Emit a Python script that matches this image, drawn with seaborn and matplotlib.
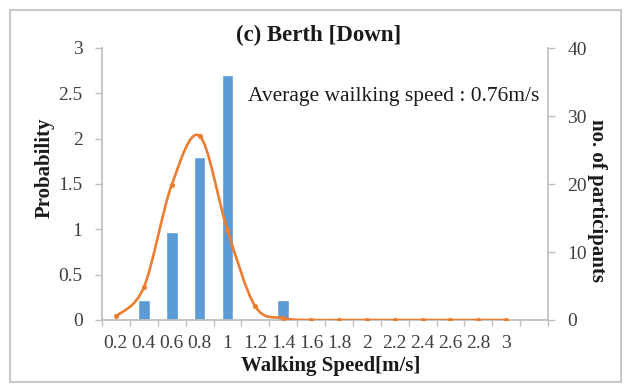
import numpy as np
import pandas as pd
import matplotlib
matplotlib.use("Agg")
import matplotlib.pyplot as plt
from matplotlib.path import Path
from matplotlib.patches import PathPatch, Rectangle
from matplotlib.ticker import FixedLocator
import seaborn as sns

# ---- data ----
categories = ["0.2", "0.4", "0.6", "0.8", "1", "1.2", "1.4", "1.6", "1.8",
              "2", "2.2", "2.4", "2.6", "2.8", "3", ""]
participants = [0, 3, 13, 24, 36, 0, 3, 0, 0, 0, 0, 0, 0, 0, 0, 0]
probability = [0.04, 0.36, 1.49, 2.03, 0.99, 0.15, 0.02, 0.0, 0.0,
               0.0, 0.0, 0.0, 0.0, 0.0, 0.0]
prob_ticks = [0, 0.5, 1, 1.5, 2, 2.5, 3]
prob_labels = ["0", "0.5", "1", "1.5", "2", "2.5", "3"]
count_ticks = [0, 10, 20, 30, 40]

title = "(c) Berth [Down]"
note = "Average wailking speed : 0.76m/s"

BLUE = "#5b9bd5"
ORANGE = "#ed7d31"
AXC = "#bfbfbf"
TXT = "#404040"

sns.set_theme(style="white")
plt.rcParams["font.family"] = ["Liberation Serif", "DejaVu Serif"]

W, H = 624, 384
fig = plt.figure(figsize=(W / 100, H / 100), dpi=100)
fig.patch.set_facecolor("white")

# outer frame
fig.patches.append(Rectangle((10 / W, 2 / H), 611 / W, 372 / H, transform=fig.transFigure,
                             fill=False, edgecolor="#c8c8c8", lw=1.5, zorder=0))

ax = fig.add_axes([102 / W, 1 - 320 / H, 446 / W, 272 / H])
ax2 = ax.twinx()

df_bar = pd.DataFrame({"speed": categories, "count": participants})
sns.barplot(data=df_bar, x="speed", y="count", order=categories, color=BLUE,
            saturation=1, width=0.42, ax=ax2, errorbar=None)

# line on primary axis, drawn above bars
ax.set_zorder(ax2.get_zorder() + 1)
ax.patch.set_visible(False)

xs = np.arange(len(probability), dtype=float)
ys = np.array(probability, dtype=float)
# smoothed (Bezier) line through the points, Excel-style
pts = np.column_stack([xs, ys])
verts = [pts[0]]
codes = [Path.MOVETO]
n = len(pts)
for i in range(n - 1):
    p0 = pts[max(i - 1, 0)]
    p1 = pts[i]
    p2 = pts[i + 1]
    p3 = pts[min(i + 2, n - 1)]
    c1 = p1 + (p2 - p0) / 6.0
    c2 = p2 - (p3 - p1) / 6.0
    verts += [c1, c2, p2]
    codes += [Path.CURVE4] * 3
ax.add_patch(PathPatch(Path(verts, codes), fill=False, edgecolor=ORANGE, lw=1.9,
                       transform=ax.transData, zorder=3))
sns.scatterplot(x=xs, y=ys, ax=ax, color=ORANGE, s=14, edgecolor=ORANGE,
                linewidth=0, zorder=4)

# axes limits / ticks
ax.set_xlim(-0.5, len(categories) - 0.5)
ax2.set_xlim(-0.5, len(categories) - 0.5)
ax.set_ylim(0, 3)
ax2.set_ylim(0, 40)

ax.set_xticks(np.arange(len(categories)))
ax.set_xticklabels(categories)
ax.xaxis.set_minor_locator(FixedLocator(np.arange(-0.5, len(categories), 1.0)))
ax.tick_params(axis="x", which="major", length=0, pad=11, labelsize=14, colors=TXT)
ax.tick_params(axis="x", which="minor", length=4, width=1, color=AXC, direction="out")
ax.tick_params(axis="x", which="minor", bottom=True)
ax2.tick_params(axis="x", which="both", bottom=False, labelbottom=False)

ax.set_yticks(prob_ticks)
ax.set_yticklabels(prob_labels)
ax.tick_params(axis="y", length=5, width=1, color=AXC, direction="out", pad=9,
               labelsize=14, colors=TXT, left=True)
ax2.set_yticks(count_ticks)
ax2.tick_params(axis="y", length=5, width=1, color=AXC, direction="out", pad=9,
                labelsize=14, colors=TXT, right=True)

for a in (ax, ax2):
    for s in a.spines.values():
        s.set_visible(False)
ax.spines["left"].set_visible(True)
ax.spines["left"].set_color(AXC)
ax.spines["bottom"].set_visible(True)
ax.spines["bottom"].set_color(AXC)
ax2.spines["right"].set_visible(True)
ax2.spines["right"].set_color(AXC)
ax.grid(False)
ax2.grid(False)

ax.set_xlabel("Walking Speed[m/s]", fontsize=15, fontweight="bold", color="#1a1a1a")
ax.xaxis.set_label_coords((331 - 102) / 446, (320 - 366) / 272)
ax.xaxis.label.set_va("center")
ax.set_ylabel("Probability", fontsize=15, fontweight="bold", color="#1a1a1a")
ax.yaxis.set_label_coords((45 - 102) / 446, (320 - 168) / 272)
ax.yaxis.label.set_va("center")
ax2.set_ylabel("no. of participants", fontsize=15, fontweight="bold", color="#1a1a1a",
               rotation=-90)
ax2.yaxis.set_label_coords((597 - 102) / 446, (320 - 200) / 272)
ax2.yaxis.label.set_va("center")

fig.text(319 / W, 1 - 35 / H, title, ha="center", va="center", fontsize=16.5,
         fontweight="bold", color="#1a1a1a")
fig.text(248 / W, 1 - 97 / H, note, ha="left", va="center", fontsize=15.5,
         color="#1a1a1a")

fig.savefig("out.png", dpi=100, facecolor="white")
